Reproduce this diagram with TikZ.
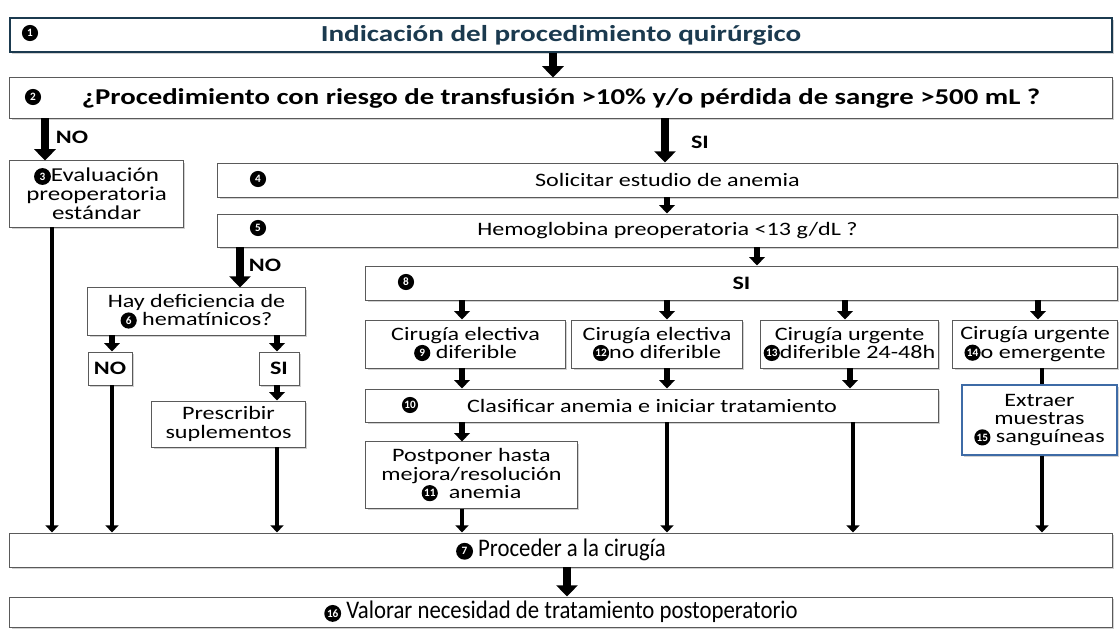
\documentclass[tikz,border=0pt]{standalone}
\usepackage{fontspec}
\setmainfont{Carlito}[FakeStretch=1.27]
\newfontfamily\plainfont{Carlito}
\newfontfamily\tallfont{Carlito}[FakeStretch=0.9]
\usetikzlibrary{arrows.meta,shadows}
\definecolor{navy}{HTML}{1B3A4F}
\definecolor{framegray}{HTML}{5A5A5A}
\definecolor{frameblue}{HTML}{3E6BA6}
\tikzset{>=latex,
  box/.style={draw=framegray, line width=0.7pt, fill=white, align=center, inner sep=1pt,
    font=\fontsize{13.5}{13}\selectfont,
    drop shadow={shadow xshift=1.5pt, shadow yshift=-1.5pt, opacity=0.3, fill=black!60}},
  num/.style={circle, fill=black, text=white, inner sep=0pt, minimum size=11.5pt,
    font=\plainfont\bfseries\fontsize{8}{8}\selectfont},
  lbl/.style={font=\bfseries\fontsize{13.5}{13.5}\selectfont, inner sep=0pt},
  bigarrow/.style={line width=6pt, -{Triangle[width=15pt,length=8pt]}},
  stubarrow/.style={line width=4pt, -{Triangle[width=11pt,length=6pt]}},
  longarrow/.style={line width=3.5pt, -{Triangle[width=9pt,length=5pt]}}
}
% number in a black disc, inside a text line
\newcommand{\cn}[2][11.5pt]{\tikz[baseline=-3.8pt]\node[num, minimum size=#1] {#2};}

\begin{document}
\begin{tikzpicture}[x=0.025cm,y=-0.025cm]
  \useasboundingbox (0,0) rectangle (1120,629);
  % upper part
  \node[box, draw=navy, line width=1.2pt, minimum width=27.55cm, minimum height=0.85cm,
    font=\bfseries\fontsize{16.3}{16.3}\selectfont, text=navy] (b1) at (561,35) {Indicación del procedimiento quirúrgico};
  \node[box, minimum width=27.55cm, minimum height=1cm,
    font=\bfseries\fontsize{16.1}{16.1}\selectfont] (b2) at (561,98) {¿Procedimiento con riesgo de transfusión >10\% y/o pérdida de sangre >500 mL ?};
  \node[box, minimum width=4.325cm, minimum height=1.65cm, font=\fontsize{14}{13.5}\selectfont] (b3) at (96.5,194) {\cn[12pt]{3}Evaluación\\preoperatoria\\estándar};
  \node[box, minimum width=22.475cm, minimum height=0.85cm] (b4) at (667.5,180) {Solicitar estudio de anemia};
  \node[box, minimum width=22.475cm, minimum height=0.825cm] (b5) at (667.5,230.5) {Hemoglobina preoperatoria <13 g/dL ?};
  \node[box, minimum width=18.775cm, minimum height=0.85cm, font=\bfseries\fontsize{13.5}{13.5}\selectfont] (b8) at (741.5,283) {SI};
  % rama NO
  \node[box, minimum width=5.425cm, minimum height=1.175cm] (b6) at (196.5,311.5) {Hay deficiencia de\\\cn{6} hematínicos?};
  \node[box, minimum width=1.1cm, minimum height=0.825cm, font=\bfseries\fontsize{13.5}{13.5}\selectfont] (bno) at (110,368.5) {NO};
  \node[box, minimum width=1cm, minimum height=0.825cm, font=\bfseries\fontsize{13.5}{13.5}\selectfont] (bsi) at (279,368.5) {SI};
  \node[box, minimum width=3.825cm, minimum height=1.15cm] (bp) at (228.5,424) {Prescribir\\suplementos};
  % rama SI
  \node[box, minimum width=4.975cm, minimum height=1.2cm] (b9) at (465.5,344) {Cirugía electiva\\\cn{9}\ diferible};
  \node[box, minimum width=4.25cm, minimum height=1.2cm] (b12) at (657,344) {Cirugía electiva\\\cn{12}no diferible};
  \node[box, minimum width=4.425cm, minimum height=1.2cm] (b13) at (849.5,344) {Cirugía urgente\\\cn{13}diferible 24-48h};
  \node[box, minimum width=4.1cm, minimum height=1.2cm] (b14) at (1035,344) {Cirugía urgente\\\cn{14}o emergente};
  \node[box, minimum width=14.3cm, minimum height=0.825cm] (b10) at (652,405.5) {Clasificar anemia e iniciar tratamiento};
  \node[box, draw=frameblue, line width=0.9pt, minimum width=3.875cm, minimum height=1.75cm] (b15) at (1039.5,420) {Extraer\\muestras\\\cn{15}\ sanguíneas};
  \node[box, minimum width=5.275cm, minimum height=1.65cm] (b11) at (471.5,475) {Postponer hasta\\mejora/resolución\\\cn{11}\ \ anemia};
  % final
  \node[box, minimum width=27.55cm, minimum height=0.85cm, font=\tallfont\fontsize{18}{18}\selectfont] (b7) at (561,550) {\cn[12pt]{7} Proceder a la cirugía};
  \node[box, minimum width=27.55cm, minimum height=0.75cm, font=\tallfont\fontsize{18}{18}\selectfont] (b16) at (561,612) {\cn[12pt]{16} Valorar necesidad de tratamiento postoperatorio};
  % numbers
  \node[num] (n1) at (30,33) {1};
  \node[num] (n2) at (33,97) {2};
  \node[num] (n4) at (258,179) {4};
  \node[num] (n5) at (258,228) {5};
  \node[num] (n8) at (406,282) {8};
  \node[num] (n10) at (410,405) {10};
  % columns of the arrows
  \coordinate (c45) at (45,0);
  \coordinate (c52) at (52,0);
  \coordinate (c112) at (112,0);
  \coordinate (c240) at (240,0);
  \coordinate (c277) at (277,0);
  \coordinate (c462) at (462,0);
  \coordinate (c553) at (553,0);
  \coordinate (c567) at (567,0);
  \coordinate (c665) at (665,0);
  \coordinate (c667) at (667,0);
  \coordinate (c757) at (757,0);
  \coordinate (c845) at (845,0);
  \coordinate (c850) at (850,0);
  \coordinate (c853) at (853,0);
  \coordinate (c1038) at (1038,0);
  \coordinate (c1042) at (1042,0);
  % arrows
  \draw[bigarrow] (b1.south -| c553) -- (b2.north -| c553);
  \draw[bigarrow] (b2.south -| c45) -- (b3.north -| c45);
  \draw[bigarrow] (b2.south -| c665) -- (b4.north -| c665);
  \node[lbl] (lno1) at (72,137) {NO};
  \node[lbl] (lsi1) at (700,142) {SI};
  \draw[stubarrow] (b4.south -| c667) -- (b5.north -| c667);
  \draw[bigarrow] (b5.south -| c240) -- (b6.north -| c240);
  \node[lbl] (lno2) at (265,265) {NO};
  \draw[stubarrow] (b5.south -| c757) -- (b8.north -| c757);
  \draw[stubarrow] (b6.south -| c112) -- (bno.north -| c112);
  \draw[stubarrow] (b6.south -| c277) -- (bsi.north -| c277);
  \draw[stubarrow] (bsi.south -| c277) -- (bp.north -| c277);
  \foreach \c/\b in {c462/b9, c667/b12, c845/b13, c1038/b14}
    \draw[stubarrow] (b8.south -| \c) -- (\b.north -| \c);
  \foreach \b/\c in {b9/c462, b12/c667, b13/c850}
    \draw[stubarrow] (\b.south -| \c) -- (b10.north -| \c);
  \draw[stubarrow] (b10.south -| c462) -- (b11.north -| c462);
  \draw[line width=3.5pt] (b14.south -| c1042) -- (b15.north -| c1042);
  \foreach \b/\c in {b3/c52, bno/c112, bp/c277, b11/c462, b10/c667, b10/c853, b15/c1042}
    \draw[longarrow] (\b.south -| \c) -- (b7.north -| \c);
  \draw[bigarrow] (b7.south -| c567) -- (b16.north -| c567);
\end{tikzpicture}
\end{document}
